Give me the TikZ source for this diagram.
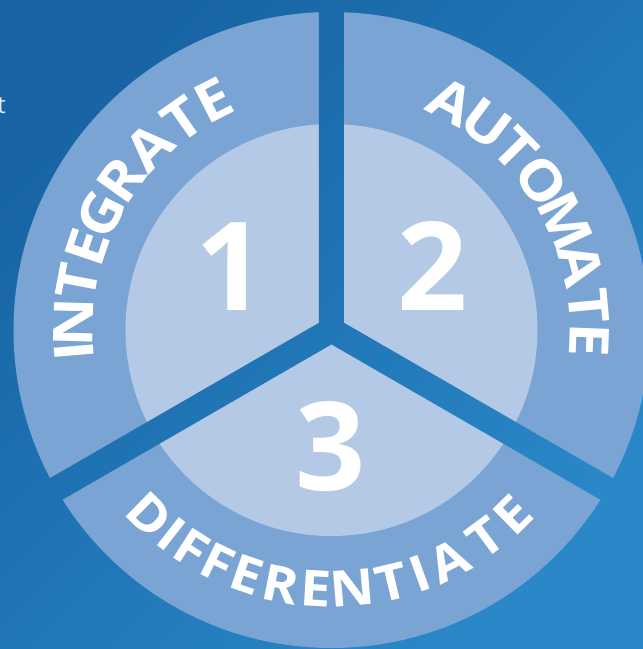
\documentclass[tikz,border=0pt]{standalone}
\usepackage{fontspec}
\setmainfont{Open Sans}
\newcommand\cwX{1.1}
\newfontfamily\curvefam{Open Sans}[FakeStretch=1.1]
\definecolor{ringout}{HTML}{7AA4D4}
\definecolor{ringin}{HTML}{B3C9E6}
\definecolor{bgA}{HTML}{1864A4}
\definecolor{bgB}{HTML}{2A88C8}
\definecolor{faint}{HTML}{E2EAF4}

\newcommand\cwsize{52}
\newcommand\curvefont{\curvefam\fontsize{\cwsize}{\cwsize}\selectfont\bfseries}

% letters spaced by their ink widths (in em) with equal visual gaps
% #1 name prefix, #2 baseline radius, #3 spacing radius, #4 first angle, #5 last angle, #6 list letter/ink
\newcommand\inkword[6]{%
  \gdef\cwW{0}%
  \foreach \ch/\k [count=\i] in {#6}{%
    \pgfmathsetmacro\cwV{\k*\cwsize*\cwX}%
    \pgfmathparse{\cwW+\cwV}\xdef\cwW{\pgfmathresult}%
    \ifnum\i=1 \xdef\cwF{\cwV}\fi
    \xdef\cwL{\cwV}\xdef\cwN{\i}%
  }%
  \pgfmathparse{(abs(#5-#4)*pi/180*#3-(\cwW-\cwF/2-\cwL/2))/(\cwN-1)}\xdef\cwT{\pgfmathresult}%
  \pgfmathparse{(#5>#4) ? 1 : -1}\xdef\cwS{\pgfmathresult}%
  \gdef\cwP{0}%
  \foreach \ch/\k [count=\i] in {#6}{%
    \pgfmathsetmacro\cwV{\k*\cwsize*\cwX}%
    \pgfmathsetmacro\cwC{\cwP+\cwV/2-\cwF/2}%
    \pgfmathsetmacro\cwA{#4+\cwS*\cwC/#3*180/pi}%
    \pgfmathsetmacro\cwR{\cwA+\cwS*90}%
    \node[letter, rotate=\cwR] (#1\i) at (\cwA:#2) {\ch};
    \pgfmathparse{\cwP+\cwV+\cwT}\xdef\cwP{\pgfmathresult}%
  }%
}

\begin{document}
\begin{tikzpicture}[x=1pt,y=1pt,
  letter/.style={font=\curvefont, text=white, inner sep=0pt, anchor=base},
  digit/.style={font=\fontsize{123}{123}\selectfont\bfseries, text=white, inner sep=0pt, anchor=base},
  bgshade/.style={top color=bgA, bottom color=bgB, shading angle=45}]
\useasboundingbox (-331.5,-319) rectangle (311.5,330);
\clip (-331.5,-319) rectangle (311.5,330);
% background
\shade[bgshade] (-331.5,-319) rectangle (311.5,330);
% rings
\fill[ringout] (0,0) circle (318);
\fill[ringin] (0,0) circle (206);
% Y-shaped gaps showing the background
\begin{scope}
  \clip (12.5,400) -- (-12.5,400) -- (-12.5,7.22) -- (-352.65,-189.17) -- (-340.15,-210.83)
        -- (0,-14.43) -- (340.15,-210.83) -- (352.65,-189.17) -- (12.5,7.22) -- cycle;
  \shade[bgshade] (-331.5,-319) rectangle (311.5,330);
\end{scope}
% cut-off text at the left edge
\node[font=\fontsize{24}{24}\selectfont, text=faint, inner sep=0pt, anchor=base east] (tcut) at (-325.5,217) {t};
% numbers
\node[digit] (n1) at (-101,20) {1};
\node[digit] (n2) at (101,20) {2};
\node[digit] (n3) at (-0.5,-160) {3};
% curved words
\renewcommand\cwsize{55}
\inkword{int}{238.5}{258}{184.8}{117.2}{I/.16,N/.57,T/.55,E/.40,G/.55,R/.54,A/.67,T/.55,E/.40}
\inkword{aut}{238.5}{258}{62.3}{-2.2}{A/.67,U/.54,T/.55,O/.65,M/.72,A/.67,T/.55,E/.40}
\renewcommand\cwsize{50}
\inkword{dif}{277}{258}{225.5}{314.5}{D/.56,I/.16,F/.38,F/.38,E/.40,R/.54,E/.40,N/.57,T/.55,I/.16,A/.67,T/.55,E/.40}
\end{tikzpicture}
\end{document}
